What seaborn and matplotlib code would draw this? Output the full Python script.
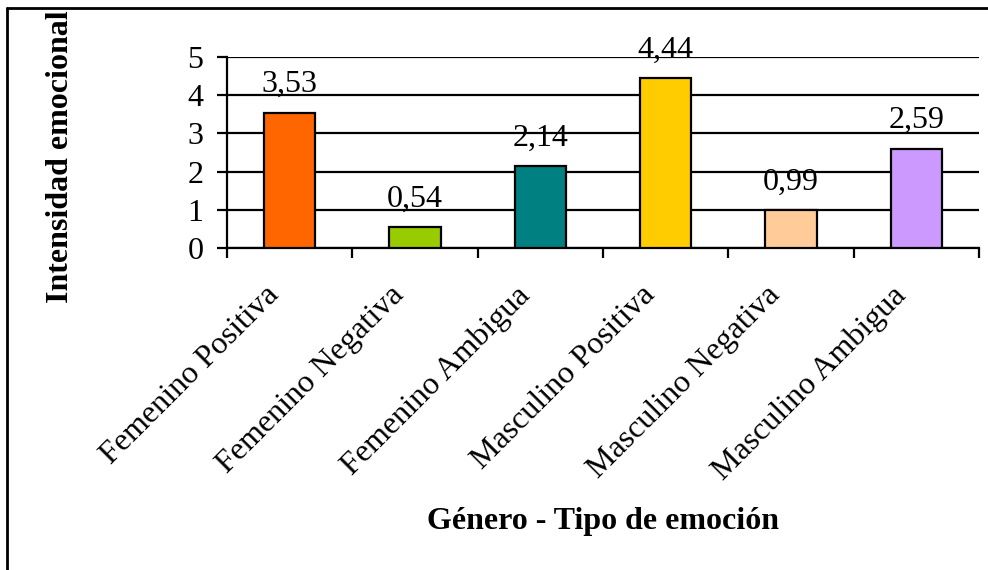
import matplotlib
matplotlib.use("Agg")
import matplotlib.pyplot as plt
from matplotlib.lines import Line2D
from matplotlib.transforms import ScaledTranslation
import seaborn as sns
import pandas as pd
import numpy as np

categories = ["Femenino Positiva", "Femenino Negativa", "Femenino Ambigua",
              "Masculino Positiva", "Masculino Negativa", "Masculino Ambigua"]
values = [3.53, 0.54, 2.14, 4.44, 0.99, 2.59]
colors = ["#FF6600", "#99CC00", "#008080", "#FFCC00", "#FFCC99", "#CC99FF"]
y_ticks = [0, 1, 2, 3, 4, 5]

sns.set_theme(style="white")
plt.rcParams["font.family"] = ["Liberation Serif", "DejaVu Serif"]
plt.rcParams.update({"text.color": "black", "axes.labelcolor": "black",
                     "xtick.color": "black", "ytick.color": "black"})

FS = 23

df = pd.DataFrame({"categoria": categories, "valor": values})

fig = plt.figure(figsize=(9.88, 5.70), dpi=100)
ax = fig.add_axes([227 / 988, 1 - 248 / 570, (979 - 227) / 988, (248 - 57) / 570])

sns.barplot(data=df, x="categoria", y="valor", hue="categoria", palette=colors,
            legend=False, width=0.41, edgecolor="black", linewidth=1.6,
            saturation=1, ax=ax, zorder=3)

ax.set_xlim(-0.5, len(categories) - 0.5)
ax.set_ylim(0, 5)
ax.set_yticks(y_ticks)
ax.set_yticklabels([str(t) for t in y_ticks], fontsize=FS)
ax.yaxis.grid(True, color="black", linewidth=1.6, zorder=0)
ax.set_axisbelow(True)

# tick marks sit on the category boundaries; labels sit under the bars
pos = np.arange(len(categories))
ax.set_xticks(np.arange(-0.5, len(categories)), labels=[""] * (len(categories) + 1))
ax.set_xticks(pos, minor=True)
ax.set_xticklabels(categories, minor=True, rotation=45, ha="right", va="center",
                   rotation_mode="anchor", fontsize=FS)
ax.tick_params(axis="x", which="minor", length=0, pad=31)
ax.tick_params(axis="x", which="major", length=7, width=1.6, color="black",
               direction="out", bottom=True)
ax.tick_params(axis="y", length=7, width=1.6, color="black", direction="out",
               left=True, pad=10)

# nudge the slanted category labels to the left of each bar
shift = ScaledTranslation(-0.15, 0, fig.dpi_scale_trans)
for lab in ax.get_xticklabels(minor=True):
    lab.set_transform(lab.get_transform() + shift)

for s in ["top", "right"]:
    ax.spines[s].set_visible(False)
for s in ["left", "bottom"]:
    ax.spines[s].set_color("black")
    ax.spines[s].set_linewidth(1.6)

for i, v in enumerate(values):
    ax.annotate(f"{v:.2f}".replace(".", ","), xy=(i, v), xytext=(0, 15),
                textcoords="offset points", ha="center", va="baseline",
                fontsize=FS, color="black")

ax.set_xlabel("")
ax.set_ylabel("")
fig.text(603 / 988, 1 - 522 / 570, "Género - Tipo de emoción", ha="center",
         va="center", fontsize=FS, fontweight="bold")
fig.text(60 / 988, 1 - 157 / 570, "Intensidad emocional", ha="center",
         va="center", rotation=90, fontsize=FS, fontweight="bold")

# chart frame (left and top edges)
fig.add_artist(Line2D([7 / 988, 7 / 988], [0, 1 - 8 / 570], transform=fig.transFigure,
                      color="black", linewidth=2))
fig.add_artist(Line2D([7 / 988, 1], [1 - 8 / 570, 1 - 8 / 570], transform=fig.transFigure,
                      color="black", linewidth=2))

fig.savefig("out.png", dpi=100, facecolor="white")
